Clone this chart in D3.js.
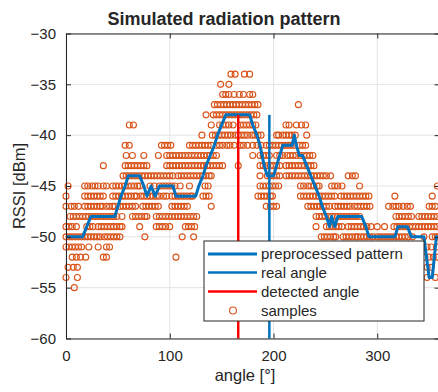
<!DOCTYPE html>
<html>
<head>
<meta charset="utf-8">
<script src="https://cdn.jsdelivr.net/npm/d3@7/dist/d3.min.js"></script>
<style>
body{margin:0;background:#fff;}
text{font-family:"Liberation Sans",Arial,Helvetica,sans-serif;fill:#262626;}
</style>
</head>
<body>
<div id="radiation"></div>
<script>
var xTicks = [0, 100, 200, 300];
var yTicks = [-60, -55, -50, -45, -40, -35, -30];

// samples, one list of angles per RSSI level
var sampleLevels = [-34, -35, -36, -37, -38, -39, -40, -41, -42, -43, -44, -45, -46, -47, -48, -49, -50, -51, -52, -53, -54, -55];
var sampleAngles = [
	[159,163,172,177],
	[149,157],
	[151,154,157,162,167,171,177,180],
	[143,146,149,152,155,158,161,164,167,170,173,176,179,182,185,224],
	[135,142,145,148,151,154,157,160,163,166,169,172,175,178,181,184],
	[61,65,140,148,151,154,157,161,168,171,174,177,180,183,212,215,222,227,231],
	[131,141,144,147,150,153,156,159,163,166,169,172,175,179,182,185,188,203,205,209,212,215,218,221,232],
	[57,61,92,95,98,101,119,122,125,128,131,134,137,140,145,148,151,155,158,162,168,171,175,180,184,188,193,196,199,202,205,208,211,214,217,220,225,228,231],
	[58,64,75,89,97,100,103,106,109,112,115,118,121,124,127,130,133,136,139,142,145,180,187,190,193,196,203,206,209,213,216,219,222,226,229,232,235,238],
	[36,57,60,63,66,69,72,75,78,97,100,103,106,109,112,115,118,121,124,127,130,133,136,139,142,145,148,151,166,187,190,194,197,200,203,206,212,215,218,221,224,227,230,233,236,239],
	[55,58,61,64,67,70,73,76,79,82,85,88,91,94,97,100,103,108,111,114,117,120,123,126,129,132,135,138,140,187,194,197,200,203,206,212,215,218,221,224,227,230,233,236,239,242,245,248,251,255,272,276,279],
	[2,18,21,25,28,31,36,39,45,48,51,54,57,60,63,66,69,71,81,85,90,93,96,99,102,105,110,119,134,137,187,190,193,196,199,202,205,226,229,233,236,239,242,244,256,259,262,266,283,358],
	[0,18,21,24,27,30,33,36,45,48,51,54,57,60,63,66,68,72,75,78,81,84,87,90,94,97,102,105,108,111,114,117,120,122,132,135,138,185,188,191,194,197,199,226,229,232,235,238,241,244,247,250,253,256,259,265,268,271,274,277,280,283,286,289,292,317,353],
	[0,5,8,12,18,21,24,27,30,33,35,39,42,45,47,52,55,58,61,64,67,74,77,80,83,86,89,102,105,108,111,114,117,140,193,197,200,203,233,236,239,242,245,248,251,254,259,262,265,268,271,274,278,281,284,287,290,293,311,315,318,321,325,329,332,350,353,356],
	[4,7,10,13,16,19,22,25,28,31,34,37,40,43,46,49,54,64,67,70,73,76,78,87,90,93,96,99,102,105,108,111,114,117,120,123,126,241,244,247,250,253,256,259,262,265,268,271,274,277,280,283,318,321,324,327,330,333,340,343,346,349,352,355,358],
	[0,3,6,10,20,23,26,31,34,37,40,43,46,49,52,54,71,87,90,93,96,100,115,118,121,124,241,251,254,257,260,263,266,272,275,278,281,284,287,290,294,300,307,316,319,322,325,328,331,334,337,340,343,346,349,352,355,358],
	[0,3,6,9,12,15,18,21,24,27,30,33,37,40,43,46,49,52,76,112,123,246,249,252,255,258,260,267,270,273,276,279,281,284,287,290,293,296,300,303,306,309,312,315,318,321,324,327,330,334,345,353,356,358],
	[0,3,6,9,12,15,22,31,39,42,348,352,357],
	[6,10,14,19,36,39,106,346,350,354,358],
	[2,7,11,348,352],
	[0,11,348,356],
	[8]
];

// preprocessed pattern (vertices)
var patternAngle = [0,16,20,24,47,50,53,57,60,71,75,78,82,86,90,103,106,125,128,132,135,139,143,146,150,154,177,180,184,187,189,191,194,200,203,206,209,218,220,222,225,228,232,236,240,244,247,251,254,256,259,262,285,289,292,317,320,329,333,345,350,353,357,360];
var patternRssi = [-50,-50,-49,-48,-48,-47,-46,-45,-44,-44,-45,-46,-45,-46,-45,-45,-46,-46,-45,-44,-43,-42,-41,-40,-39,-38,-38,-39,-40,-41,-42,-43,-44,-44,-43,-42,-41,-41,-40,-41,-42,-42,-43,-44,-45,-46,-47,-48,-49,-48,-49,-48,-48,-49,-50,-50,-49,-49,-50,-50,-54,-54,-50,-50];

var realAngle = 196;
var detectedAngle = 166;
var markerTop = -38;

var legendNames = ["preprocessed pattern", "real angle", "detected angle", "samples"];

var draw_pattern = function(){
	var svg = d3.select("#radiation").append("svg").attr("width", 438).attr("height", 392).append("g");
	var x = d3.scaleLinear().domain([0, 360]).range([66, 439.5]);
	var y = d3.scaleLinear().domain([-60, -30]).range([338.5, 33.5]);

	// grid
	svg.append("g").selectAll(".gx").data(xTicks).enter().append("line")
		.attr("x1", function(d){ return x(d); }).attr("x2", function(d){ return x(d); })
		.attr("y1", y(-60)).attr("y2", y(-30))
		.attr("stroke", "#e3e3e3").attr("stroke-width", 1);
	svg.append("g").selectAll(".gy").data(yTicks).enter().append("line")
		.attr("x1", x(0)).attr("x2", x(360))
		.attr("y1", function(d){ return y(d); }).attr("y2", function(d){ return y(d); })
		.attr("stroke", "#e3e3e3").attr("stroke-width", 1);

	// samples
	var pts = [];
	for (var k = 0; k < sampleLevels.length; k++) {
		for (var j = 0; j < sampleAngles[k].length; j++) {
			pts.push([sampleAngles[k][j], sampleLevels[k]]);
		}
	}
	svg.append("g").selectAll(".sample").data(pts).enter()
		.append("circle").attr("class", "sample")
		.attr("cx", function(d){ return x(d[0]); })
		.attr("cy", function(d){ return y(d[1]); })
		.attr("r", 3)
		.attr("fill", "none")
		.attr("stroke", "#D95319")
		.attr("stroke-width", 1.1);

	var line = d3.line()
		.x(function(d){ return x(d[0]); })
		.y(function(d){ return y(d[1]); });

	var pattern = patternAngle.map(function(a, i){ return [a, patternRssi[i]]; });
	svg.append("path").datum(pattern)
		.attr("fill", "none")
		.attr("stroke", "#0072BD")
		.attr("stroke-width", 3)
		.attr("stroke-linejoin", "round")
		.attr("d", line);

	svg.append("path").datum([[realAngle, -60], [realAngle, markerTop]])
		.attr("fill", "none").attr("stroke", "#0072BD").attr("stroke-width", 2.5).attr("d", line);
	svg.append("path").datum([[detectedAngle, -60], [detectedAngle, markerTop]])
		.attr("fill", "none").attr("stroke", "#FF0000").attr("stroke-width", 2.5).attr("d", line);

	// axes, ticks inward on all sides
	var xAxis = d3.axisBottom(x).tickValues(xTicks).tickSizeInner(-5).tickSizeOuter(0).tickPadding(12);
	var yAxis = d3.axisLeft(y).tickValues(yTicks).tickSizeInner(-5).tickSizeOuter(0).tickPadding(10);
	svg.append("g").attr("transform", "translate(0," + y(-60) + ")").call(xAxis);
	svg.append("g").attr("transform", "translate(" + x(0) + ",0)").call(yAxis);
	svg.append("g").attr("transform", "translate(0," + y(-30) + ")")
		.call(d3.axisTop(x).tickValues(xTicks).tickSizeInner(-5).tickSizeOuter(0).tickFormat(""));
	svg.append("g").attr("transform", "translate(" + x(360) + ",0)")
		.call(d3.axisRight(y).tickValues(yTicks).tickSizeInner(-5).tickSizeOuter(0).tickFormat(""));
	svg.selectAll(".domain").attr("stroke", "#262626");
	svg.selectAll(".tick line").attr("stroke", "#262626");
	svg.selectAll(".tick text").attr("font-family", "Liberation Sans, Arial, sans-serif").attr("font-size", 15).attr("fill", "#262626");

	// labels
	svg.append("text").attr("text-anchor", "middle")
		.attr("x", 224).attr("y", 25)
		.attr("font-size", 18).attr("font-weight", "bold")
		.text("Simulated radiation pattern");
	svg.append("text").attr("text-anchor", "middle")
		.attr("x", 245).attr("y", 381)
		.attr("font-size", 16.5)
		.text("angle [°]");
	svg.append("text").attr("text-anchor", "middle")
		.attr("transform", "translate(25,186) rotate(-90)")
		.attr("font-size", 16.5)
		.text("RSSI [dBm]");

	// legend
	var lg = svg.append("g").attr("transform", "translate(204,241)");
	lg.append("rect").attr("x", 0).attr("y", 0).attr("width", 220).attr("height", 80)
		.attr("fill", "#fff").attr("stroke", "#262626").attr("stroke-width", 1);
	var rowY = [13, 31.5, 50.5, 69.5];
	var strokes = ["#0072BD", "#0072BD", "#FF0000"];
	var widths = [3, 2.5, 2.5];
	for (var i = 0; i < 3; i++) {
		lg.append("line").attr("x1", 4).attr("x2", 53).attr("y1", rowY[i]).attr("y2", rowY[i])
			.attr("stroke", strokes[i]).attr("stroke-width", widths[i]);
	}
	lg.append("circle").attr("cx", 29).attr("cy", rowY[3]).attr("r", 3.5)
		.attr("fill", "none").attr("stroke", "#D95319").attr("stroke-width", 1.1);
	lg.selectAll(".legend_text").data(legendNames).enter()
		.append("text").attr("class", "legend_text")
		.attr("x", 57)
		.attr("y", function(d, i){ return rowY[i] + 5; })
		.attr("font-size", 15)
		.text(function(d){ return d; });
};

window.onload = function(){
	draw_pattern();
};
</script>
</body>
</html>
